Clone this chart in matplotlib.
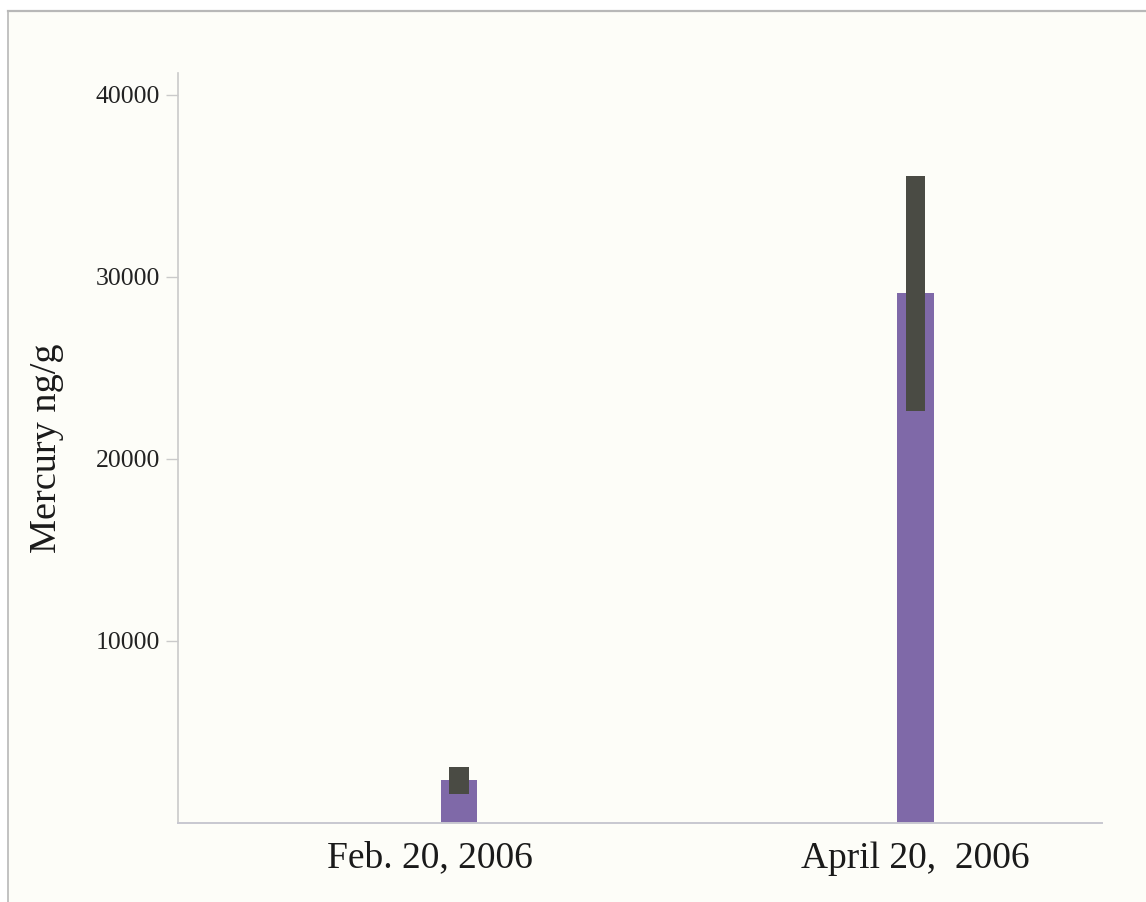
import matplotlib
matplotlib.use("Agg")
import matplotlib.pyplot as plt
from matplotlib.patches import Rectangle
from matplotlib.lines import Line2D
from matplotlib.transforms import ScaledTranslation

# Mercury concentration (ng/g) by sampling date
dates = ["Feb. 20, 2006", "April 20,  2006"]
mercury_mean = [2350, 29100]
mercury_err = [740, 6450]
y_ticks = [10000, 20000, 30000, 40000]

plt.rcParams["font.family"] = ["Liberation Serif", "DejaVu Serif"]

W, H = 1146, 902
fig = plt.figure(figsize=(W / 100, H / 100), dpi=100, facecolor="white")

# cream panel with a thin grey frame on the top and left
panel_color = "#FDFDF8"
frame_color = "#B8B8B8"
fig.patches.append(Rectangle((8 / W, 0), 1 - 8 / W, (H - 11) / H,
                             transform=fig.transFigure, facecolor=panel_color,
                             edgecolor="none", zorder=-5))
fig.lines.append(Line2D([8 / W, 1], [(H - 11) / H, (H - 11) / H],
                        transform=fig.transFigure, color=frame_color, lw=1.6))
fig.lines.append(Line2D([8 / W, 8 / W], [0, (H - 11) / H],
                        transform=fig.transFigure, color=frame_color, lw=1.2))

ax = fig.add_axes([178 / W, (H - 823) / H, (1102 - 178) / W, (823 - 73) / H])
ax.set_facecolor(panel_color)

x = list(range(len(dates)))
ax.bar(x, mercury_mean, width=0.081, color="#7F69A8", zorder=2)
lows = [m - e for m, e in zip(mercury_mean, mercury_err)]
spans = [2 * e for e in mercury_err]
ax.bar(x, spans, bottom=lows, width=0.042, color="#4A4B44", zorder=3)

ax.set_xlim(-0.6155, 1.4085)
ax.set_ylim(0, 41200)
ax.set_yticks(y_ticks)
ax.set_yticklabels([str(t) for t in y_ticks])
ax.set_xticks(x)
ax.set_xticklabels(dates)

for side in ("top", "right"):
    ax.spines[side].set_visible(False)
ax.spines["left"].set_color("#CACACA")
ax.spines["bottom"].set_color("#C8C8D0")
ax.spines["left"].set_linewidth(1.2)
ax.spines["bottom"].set_linewidth(1.4)

ax.tick_params(axis="y", length=9, width=1.0, color="#CACACA", pad=4,
               labelsize=18.5, labelcolor="#222222")
ax.tick_params(axis="x", length=0, pad=13, labelsize=27, labelcolor="#1A1A1A")

# the first date label sits a little left of its bar
lbl = ax.get_xticklabels()[0]
lbl.set_transform(lbl.get_transform() + ScaledTranslation(-0.29, 0, fig.dpi_scale_trans))

ax.set_ylabel("Mercury ng/g", fontsize=27.5, color="#1A1A1A", labelpad=23)

fig.savefig("out.png", dpi=100, facecolor="white")
